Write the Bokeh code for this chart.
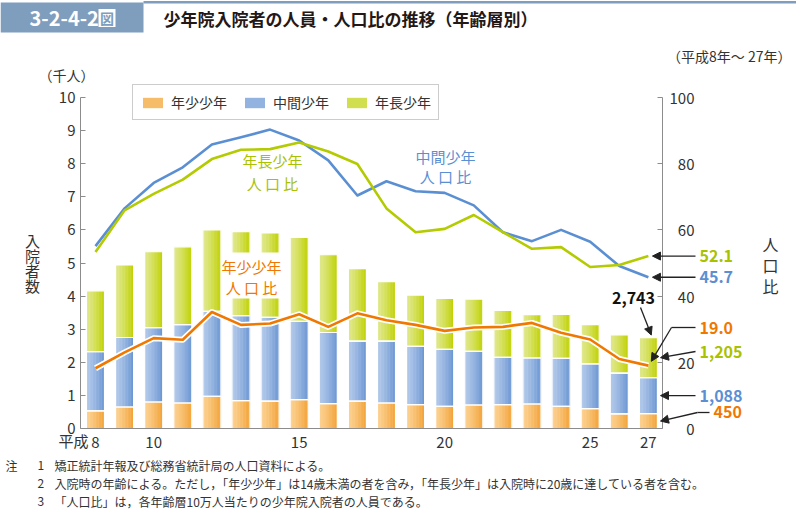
from bokeh.plotting import figure
from bokeh.models import (Range1d, LinearAxis, Label, Arrow, NormalHead, Legend, LegendItem,
                          FixedTicker)
from bokeh.embed import file_html
from bokeh.resources import INLINE
from bokeh.core.properties import value

# ---------------- data ----------------
years = list(range(8, 28))
young = [530, 650, 800, 770, 970, 840, 830, 870, 750, 830, 770, 720, 670, 710, 720, 740, 670, 600, 440, 450]
middle = [1790, 2100, 2250, 2370, 2570, 2570, 2530, 2370, 2150, 1810, 1870, 1760, 1720, 1620, 1430, 1390, 1450, 1350, 1230, 1088]
older = [1840, 2190, 2290, 2350, 2460, 2540, 2550, 2530, 2350, 2190, 1800, 1550, 1540, 1580, 1420, 1310, 1330, 1190, 1160, 1205]
young_rate = [18.2, 23.0, 27.3, 26.8, 35.2, 31.3, 31.7, 34.5, 30.7, 34.8, 32.7, 31.3, 29.5, 30.5, 30.7, 31.9, 28.9, 26.9, 21.0, 19.0]
middle_rate = [55.1, 66.5, 74.2, 78.9, 85.8, 88.0, 90.3, 87.0, 81.0, 70.4, 74.7, 71.7, 71.2, 67.4, 59.3, 56.6, 60.0, 56.4, 49.1, 45.7]
older_rate = [53.3, 65.9, 70.9, 75.2, 81.4, 84.2, 84.4, 86.4, 83.7, 79.9, 66.5, 59.3, 60.3, 64.5, 59.3, 54.3, 54.8, 48.8, 49.4, 52.1]
x_ticks = [8, 10, 15, 20, 25, 27]
left_ticks = list(range(0, 11))
right_ticks = [0, 20, 40, 60, 80, 100]
legend_labels = ["年少少年", "中間少年", "年長少年"]
title_no = "3-2-4-2"
title_text = "少年院入院者の人員・人口比の推移（年齢層別）"
notes = [
    ("注", "1", "矯正統計年報及び総務省統計局の人口資料による。"),
    ("", "2", "入院時の年齢による。ただし，「年少少年」は14歳未満の者を含み，「年長少年」は入院時に20歳に達している者を含む。"),
    ("", "3", "「人口比」は，各年齢層10万人当たりの少年院入院者の人員である。"),
]

JP = "Noto Sans CJK JP"
BOX = "#7f9dbd"
ORANGE = "#f07800"
BLUE = "#5b8fd3"
GREEN = "#b3cb00"
GREEN_TXT = "#a9c200"
TXT = "#333333"
AX = "#8c8c8c"

# page-pixel <-> data helpers (frame covers the whole page)
X0, PXU, PYU = 7.485, 29.1, 33.1
def X(px):
    return X0 + (px - 80) / PXU
def YL(py):
    return (428 - py) / PYU
def YR(py):
    return (428 - py) / (PYU / 10)

p = figure(width=796, height=510, x_range=Range1d(X(0), X(796)), y_range=Range1d(YL(510), YL(0)),
           toolbar_location=None, output_backend="svg", min_border=0,
           x_axis_type=None, y_axis_type=None)
p.extra_y_ranges = {"r": Range1d(YR(510), YR(0))}
p.grid.visible = False
p.outline_line_color = None

# ---------------- title strip ----------------
p.quad(left=[X(0)], right=[X(143)], top=[YL(2)], bottom=[YL(32)], fill_color=BOX, line_color=None)
p.quad(left=[X(143)], right=[X(796)], top=[YL(0.5)], bottom=[YL(3)], fill_color=BOX, line_color=None)
p.text(x=[X(29)], y=[YL(17.5)], text=[title_no], text_font=value(JP), text_font_style="bold",
       text_color="white", text_font_size="20px", text_baseline="middle")
p.quad(left=[X(98)], right=[X(115)], top=[YL(8.5)], bottom=[YL(26.5)], fill_color="white", line_color=None)
p.text(x=[X(106.5)], y=[YL(17.5)], text=["図"], text_font=value(JP), text_font_style="bold",
       text_color=BOX, text_font_size="14px", text_baseline="middle", text_align="center")
p.text(x=[X(163)], y=[YL(18)], text=[title_text], text_font=value(JP), text_font_style="bold",
       text_color="#231815", text_font_size="17px", text_baseline="middle")

# ---------------- stacked bars (thousands) ----------------
t1 = [a / 1000 for a in young]
t2 = [a + b / 1000 for a, b in zip(t1, middle)]
t3 = [a + b / 1000 for a, b in zip(t2, older)]
b0 = [0] * len(years)

def lerp(c1, c2, f):
    a = [int(c1[i:i + 2], 16) for i in (1, 3, 5)]
    b = [int(c2[i:i + 2], 16) for i in (1, 3, 5)]
    return "#%02x%02x%02x" % tuple(int(round(a[k] + (b[k] - a[k]) * f)) for k in range(3))

bw = 0.62
N = 12
series = [
    (b0, t1, "#fcd191", "#f2a236"),
    (t1, t2, "#b2c9ea", "#6a95d2"),
    (t2, t3, "#e0e88e", "#bfd100"),
]
legend_rs = []
for bot, top, c_l, c_r in series:
    for i in range(N):
        f = (i + 0.5) / N
        col = lerp(c_l, c_r, f ** 1.3)
        xs = [yy - bw / 2 + (i + 0.5) * bw / N for yy in years]
        r = p.vbar(x=xs, bottom=bot, top=top, width=bw / N * 1.3, fill_color=col, line_color=None)
        if i == N // 2:
            legend_rs.append(r)
for bot, top, c_l, c_r in series:
    p.vbar(x=years, bottom=bot, top=top, width=bw, fill_color=None, line_color="white", line_width=1.2)

# white box behind the orange caption
p.quad(left=[X(222)], right=[X(281)], top=[YL(252)], bottom=[YL(298)], fill_color="white", line_color=None)

# ---------------- rate lines ----------------
p.line(years, middle_rate, y_range_name="r", line_color=BLUE, line_width=2.6, line_join="round")
p.line(years, older_rate, y_range_name="r", line_color=GREEN, line_width=2.6, line_join="round")
p.line(years, young_rate, y_range_name="r", line_color="white", line_width=6, line_join="round")
p.line(years, young_rate, y_range_name="r", line_color=ORANGE, line_width=2.6, line_join="round")

# ---------------- axes ----------------
yl = LinearAxis(ticker=FixedTicker(ticks=left_ticks), fixed_location=X0, bounds=(0, 10))
xb = LinearAxis(ticker=FixedTicker(ticks=x_ticks), fixed_location=0, bounds=(X0, X0 + 20))
yr = LinearAxis(y_range_name="r", ticker=FixedTicker(ticks=right_ticks), fixed_location=X0 + 20,
                bounds=(0, 100))
yr.major_label_overrides = {v: "\u2007" * (3 - len(str(v))) + str(v) for v in right_ticks}
p.add_layout(yl, "left")
p.add_layout(xb, "below")
p.add_layout(yr, "right")
for ax in (yl, xb, yr):
    ax.axis_line_color = AX
    ax.major_label_text_font = JP
    ax.major_label_text_font_size = "15px"
    ax.major_label_text_color = TXT
    ax.minor_tick_line_color = None
for ax in (yl, yr):
    ax.major_tick_line_color = AX
    ax.major_tick_in = 5
    ax.major_tick_out = 0
xb.major_tick_line_color = None
xb.major_label_standoff = 2
yl.major_label_standoff = 5
yr.major_label_standoff = 7

# ---------------- legend ----------------
legend = Legend(items=[LegendItem(label=l, renderers=[r]) for l, r in zip(legend_labels, legend_rs)],
                orientation="horizontal", location=(132, 390), glyph_width=25, glyph_height=13,
                label_standoff=6, spacing=15, padding=7, margin=0, label_height=14,
                label_text_font=JP, label_text_font_size="14px", label_text_color=TXT,
                border_line_color="#999999", border_line_width=1, background_fill_alpha=1)
p.add_layout(legend)

def lab(x, y, text, color=TXT, size="15px", align="left", bold=False, rng=None):
    kw = dict(x=x, y=y, text=text, text_color=color, text_font=JP, text_font_size=size,
              text_align=align, text_baseline="middle", text_font_style="bold" if bold else "normal")
    if rng:
        kw["y_range_name"] = rng
    p.add_layout(Label(**kw))

def arrow(x0, y0, x1, y1, head=True, rng=None):
    kw = dict(x_start=x0, y_start=y0, x_end=x1, y_end=y1, line_color="#222222", line_width=1.3,
              end=NormalHead(size=8, fill_color="#222222", line_color="#222222", line_width=1) if head else None)
    if rng:
        kw["y_range_name"] = rng
    p.add_layout(Arrow(**kw))

# inner captions
lab(X(272), YL(160), "年長少年", GREEN_TXT, align="center")
lab(X(272), YL(183), "人 口 比", GREEN_TXT, align="center")
lab(X(445), YL(156), "中間少年", BLUE, align="center")
lab(X(445), YL(176), "人 口 比", BLUE, align="center")
lab(X(251), YL(266), "年少少年", ORANGE, align="center")
lab(X(251), YL(287), "人 口 比", ORANGE, align="center")

# outer texts
lab(X(66), YL(74), "（千人）", TXT, size="14px", align="center")
lab(X(791), YL(55), "（平成8年～ 27年）", TXT, size="14px", align="right")
lab(X(88), YL(440), "平成", TXT, size="15px", align="right")
for i, ch in enumerate("入院者数"):
    lab(X(32), YL(240 + 15 * i), ch, TXT, size="15px", align="center")
for i, ch in enumerate("人口比"):
    lab(X(770), YL(243 + 21 * i), ch, TXT, size="16px", align="center")

# end-value annotations
last = len(years) - 1
xe = years[last]
lab(X(699), older_rate[last], f"{older_rate[last]:.1f}", GREEN_TXT, size="16px", bold=True, rng="r")
arrow(X(695), older_rate[last], xe + 0.14, older_rate[last], rng="r")
lab(X(699), middle_rate[last], f"{middle_rate[last]:.1f}", BLUE, size="16px", bold=True, rng="r")
arrow(X(695), middle_rate[last], xe + 0.14, middle_rate[last], rng="r")

lab(X(699), YR(327), f"{young_rate[last]:.1f}", ORANGE, size="16px", bold=True, rng="r")
arrow(X(695), YR(327), X(671), YR(327), head=False, rng="r")
arrow(X(671), YR(327), xe + 0.1, young_rate[last] + 1.3, rng="r")

lab(X(699), YL(351), f"{older[last]:,}", GREEN_TXT, size="16px", bold=True)
arrow(X(695), YL(351), X(660), (t2[last] + t3[last]) / 2)
lab(X(699), (t1[last] + t2[last]) / 2, f"{middle[last]:,}", BLUE, size="16px", bold=True)
arrow(X(695), (t1[last] + t2[last]) / 2, X(660), (t1[last] + t2[last]) / 2)
lab(X(713), YL(411), f"{young[last]:,}", ORANGE, size="16px", bold=True)
arrow(X(709), YL(412), X(697), YL(412), head=False)
arrow(X(697), YL(412), X(660), t1[last] / 2)

lab(X(633), YL(297), f"{young[last] + middle[last] + older[last]:,}", "#111111", size="16px", bold=True, align="center")
arrow(X(640), YL(307), xe + 0.1, t3[last] + 0.08)

# notes
for k, (a, n, txt) in enumerate(notes):
    yy = YL(465 + 18 * k)
    if a:
        lab(X(5), yy, a, TXT, size="12px")
    lab(X(37), yy, n, TXT, size="12px")
    lab(X(54), yy, txt, TXT, size="12px")

open("out.html", "w").write(file_html(p, INLINE))
